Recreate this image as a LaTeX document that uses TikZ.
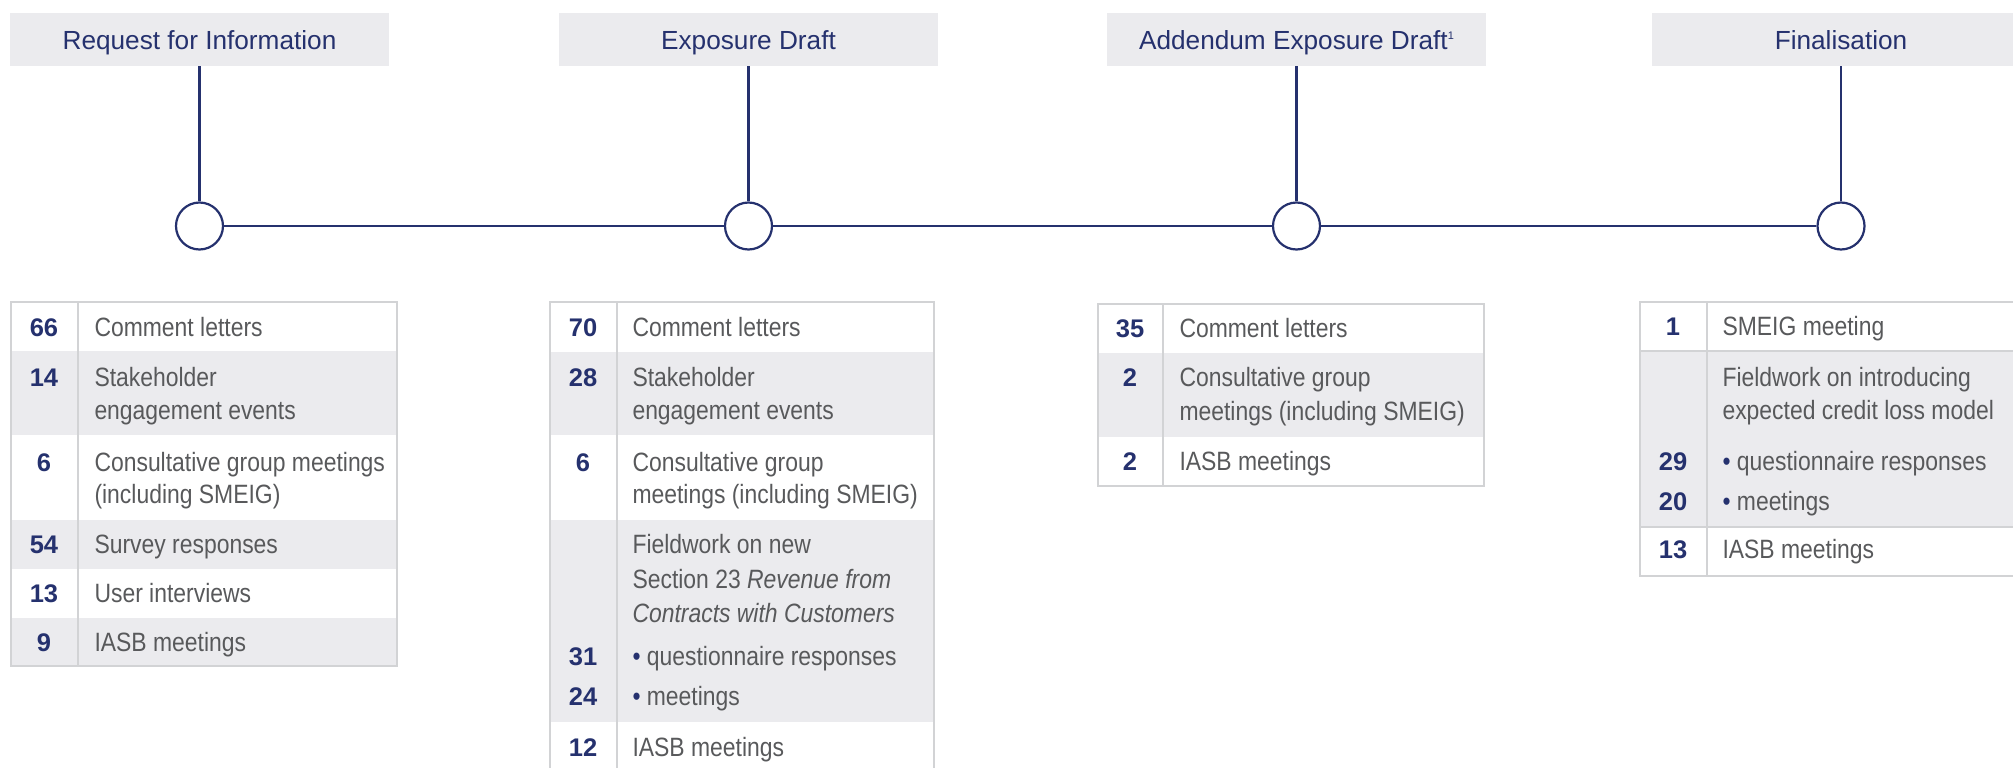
\documentclass[tikz,border=0pt]{standalone}
\usepackage{fontspec}
\setmainfont{Liberation Sans}
\newfontfamily\headfam{Liberation Sans}
\newfontfamily\cellfam[FakeStretch=0.865]{Liberation Sans}
\newfontfamily\countfam{Liberation Sans}

\definecolor{navy}{RGB}{37,49,110}
\definecolor{bodygray}{RGB}{88,89,91}
\definecolor{panelgray}{RGB}{235,235,238}
\definecolor{rulegray}{RGB}{210,211,213}

\tikzset{
  phase/.style={rectangle, fill=panelgray, minimum width=379pt, minimum height=53pt, inner sep=0pt},
  phaselabel/.style={anchor=base, inner sep=0pt, text=navy, font=\headfam\fontsize{26.2}{30}\selectfont},
  milestone/.style={circle, draw=navy, line width=2.2pt, fill=white, minimum size=47pt, inner sep=0pt},
  link/.style={draw=navy, line width=2.2pt},
  band/.style={fill=panelgray},
  frame/.style={draw=rulegray, line width=2pt},
  count/.style={anchor=base, inner sep=0pt, text=navy, font=\countfam\bfseries\fontsize{25.5}{30}\selectfont},
  cell/.style={anchor=base west, inner sep=0pt, text=bodygray, font=\cellfam\fontsize{26.5}{30}\selectfont},
}
\newcommand{\dotitem}{\textcolor{navy}{•}\ }

\begin{document}
\begin{tikzpicture}[x=1pt, y=-1pt]
\useasboundingbox (0,0) rectangle (2013,768);
\clip (0,0) rectangle (2013,768);

% ---- phase headers ----
\node[phase] (h1) at (199.5,39.5) {};
\node[phase] (h2) at (748.5,39.5) {};
\node[phase] (h3) at (1296.5,39.5) {};
\node[phase] (h4) at (1841,39.5) {};
\node[phaselabel] (l1) at (199.5,50) {Request for Information};
\node[phaselabel] (l2) at (748.5,50) {Exposure Draft};
\node[phaselabel] (l3) at (1296.5,50) {Addendum Exposure Draft\raisebox{10.9pt}{\fontsize{11}{11}\selectfont 1}};
\node[phaselabel] (l4) at (1841,50) {Finalisation};

% ---- timeline ----
\node[milestone] (c1) at (199.5,226) {};
\node[milestone] (c2) at (748.5,226) {};
\node[milestone] (c3) at (1296.5,226) {};
\node[milestone] (c4) at (1841,226) {};
\draw[link] (h1.south) -- (c1.north);
\draw[link] (h2.south) -- (c2.north);
\draw[link] (h3.south) -- (c3.north);
\draw[link] (h4.south) -- (c4.north);
\draw[link] (c1.east) -- (c2.west);
\draw[link] (c2.east) -- (c3.west);
\draw[link] (c3.east) -- (c4.west);

% ---- table: Request for Information ----
\fill[band] (11,351) rectangle (397,435);
\fill[band] (11,520) rectangle (397,569);
\fill[band] (11,618) rectangle (397,666);
\draw[frame] (11,302) rectangle (397,666);
\draw[frame] (78,302) -- (78,666);
\node[count] (a1) at (44,336) {66};
\node[cell] (ta1) at (94.3,336) {Comment letters};
\node[count] (a2) at (44,386.7) {14};
\node[cell] (ta2) at (94.3,386.7) {Stakeholder};
\node[cell] (ta2b) at (94.3,419.3) {engagement events};
\node[count] (a3) at (44,471) {6};
\node[cell] (ta3) at (94.3,471) {Consultative group meetings};
\node[cell] (ta3b) at (94.3,503.5) {(including SMEIG)};
\node[count] (a4) at (44,553.5) {54};
\node[cell] (ta4) at (94.3,553.5) {Survey responses};
\node[count] (a5) at (44,602.7) {13};
\node[cell] (ta5) at (94.3,602.7) {User interviews};
\node[count] (a6) at (44,651.7) {9};
\node[cell] (ta6) at (94.3,651.7) {IASB meetings};

% ---- table: Exposure Draft ----
\fill[band] (550,352) rectangle (934,435);
\fill[band] (550,520) rectangle (934,722);
\draw[frame] (550,302) rectangle (934,772);
\draw[frame] (617,302) -- (617,772);
\node[count] (b1) at (583,336) {70};
\node[cell] (tb1) at (632.3,336) {Comment letters};
\node[count] (b2) at (583,386.7) {28};
\node[cell] (tb2) at (632.3,386.7) {Stakeholder};
\node[cell] (tb2b) at (632.3,419.3) {engagement events};
\node[count] (b3) at (583,471) {6};
\node[cell] (tb3) at (632.3,471) {Consultative group};
\node[cell] (tb3b) at (632.3,503.5) {meetings (including SMEIG)};
\node[cell] (tb4) at (632.3,553.3) {Fieldwork on new};
\node[cell] (tb4b) at (632.3,588.3) {Section 23 \textit{Revenue from}};
\node[cell] (tb4c) at (632.3,622.7) {\textit{Contracts with Customers}};
\node[count] (b5) at (583,665) {31};
\node[cell] (tb5) at (632.3,665) {\dotitem questionnaire responses};
\node[count] (b6) at (583,705.5) {24};
\node[cell] (tb6) at (632.3,705.5) {\dotitem meetings};
\node[count] (b7) at (583,756.7) {12};
\node[cell] (tb7) at (632.3,756.7) {IASB meetings};

% ---- table: Addendum Exposure Draft ----
\fill[band] (1098,353) rectangle (1484,437);
\draw[frame] (1098,304) rectangle (1484,486);
\draw[frame] (1163,304) -- (1163,486);
\node[count] (d1) at (1130,337.7) {35};
\node[cell] (td1) at (1179.3,337.7) {Comment letters};
\node[count] (d2) at (1130,386.7) {2};
\node[cell] (td2) at (1179.3,386.7) {Consultative group};
\node[cell] (td2b) at (1179.3,420) {meetings (including SMEIG)};
\node[count] (d3) at (1130,470) {2};
\node[cell] (td3) at (1179.3,470) {IASB meetings};

% ---- table: Finalisation ----
\fill[band] (1640,351) rectangle (2026,527);
\draw[frame] (1640,351) -- (2026,351);
\draw[frame] (1640,527) -- (2026,527);
\draw[frame] (1640,302) rectangle (2026,576);
\draw[frame] (1707,302) -- (1707,576);
\node[count] (e1) at (1673,335.7) {1};
\node[cell] (te1) at (1722.3,335.7) {SMEIG meeting};
\node[cell] (te2) at (1722.3,386.7) {Fieldwork on introducing};
\node[cell] (te2b) at (1722.3,419.3) {expected credit loss model};
\node[count] (e3) at (1673,470) {29};
\node[cell] (te3) at (1722.3,470) {\dotitem questionnaire responses};
\node[count] (e4) at (1673,510.7) {20};
\node[cell] (te4) at (1722.3,510.7) {\dotitem meetings};
\node[count] (e5) at (1673,558.3) {13};
\node[cell] (te5) at (1722.3,558.3) {IASB meetings};
\end{tikzpicture}
\end{document}
